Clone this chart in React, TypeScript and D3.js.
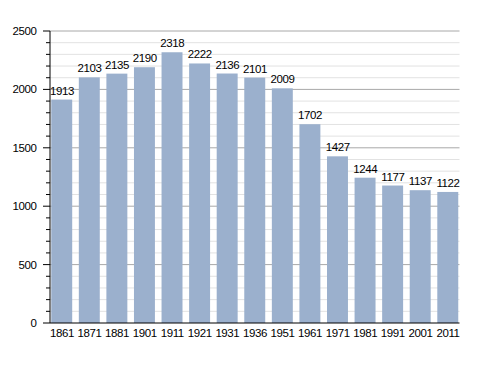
import React from "react";
import * as d3 from "d3";

const years = ["1861","1871","1881","1901","1911","1921","1931","1936","1951","1961","1971","1981","1991","2001","2011"];
const population = [1913,2103,2135,2190,2318,2222,2136,2101,2009,1702,1427,1244,1177,1137,1122];
const majorTicks = [0,500,1000,1500,2000,2500];
const minorTicks = d3.range(0, 2501, 100);

export default function App() {
  const W = 488, H = 373;
  const left = 50, right = 459.5, top = 31, bottom = 323;
  const x = d3.scaleBand<string>().domain(years).range([left, right]).paddingInner(0.24).paddingOuter(0.045);
  const y = d3.scaleLinear().domain([0, 2500]).range([bottom, top]);
  const font = "Liberation Sans, Arial, sans-serif";
  const ls = -0.4;
  const fs = 11.5;
  return (
    <svg width={W} height={H} style={{ position: "absolute", left: 0, top: 0 }}>
      <rect width={W} height={H} fill="#fff" />
      {minorTicks.filter(t => t % 500 !== 0).map(t => (
        <line key={"g" + t} x1={left} x2={right} y1={y(t)} y2={y(t)} stroke="#e2e2e2" strokeWidth={1} />
      ))}
      {majorTicks.filter(t => t > 0).map(t => (
        <line key={"G" + t} x1={left} x2={right} y1={y(t)} y2={y(t)} stroke="#a8a8a8" strokeWidth={1} />
      ))}
      {years.map((yr, i) => (
        <rect key={yr} x={x(yr)} y={y(population[i])} width={x.bandwidth()} height={bottom - y(population[i])} fill="#9bb0cd" />
      ))}
      {years.map((yr, i) => (
        <text key={"l" + yr} x={(x(yr) as number) + x.bandwidth() / 2 - ls / 2} y={y(population[i]) - 5} textAnchor="middle" fontFamily={font} fontSize={fs} letterSpacing={ls} fill="#000">{population[i]}</text>
      ))}
      <line x1={left} x2={left} y1={top} y2={bottom} stroke="#000" strokeWidth={1} />
      <line x1={left} x2={right} y1={bottom} y2={bottom} stroke="#000" strokeWidth={1} />
      {minorTicks.map(t => (
        <line key={"t" + t} x1={t % 500 === 0 ? left - 7 : left - 4} x2={left} y1={y(t)} y2={y(t)} stroke="#000" strokeWidth={1} />
      ))}
      {majorTicks.map(t => (
        <text key={"y" + t} x={36 - ls} y={y(t) + 4} textAnchor="end" fontFamily={font} fontSize={fs} letterSpacing={ls} fill="#000">{t}</text>
      ))}
      {years.map(yr => (
        <text key={"x" + yr} x={(x(yr) as number) + x.bandwidth() / 2 - ls / 2} y={336.5} textAnchor="middle" fontFamily={font} fontSize={fs} letterSpacing={ls} fill="#000">{yr}</text>
      ))}
    </svg>
  );
}
